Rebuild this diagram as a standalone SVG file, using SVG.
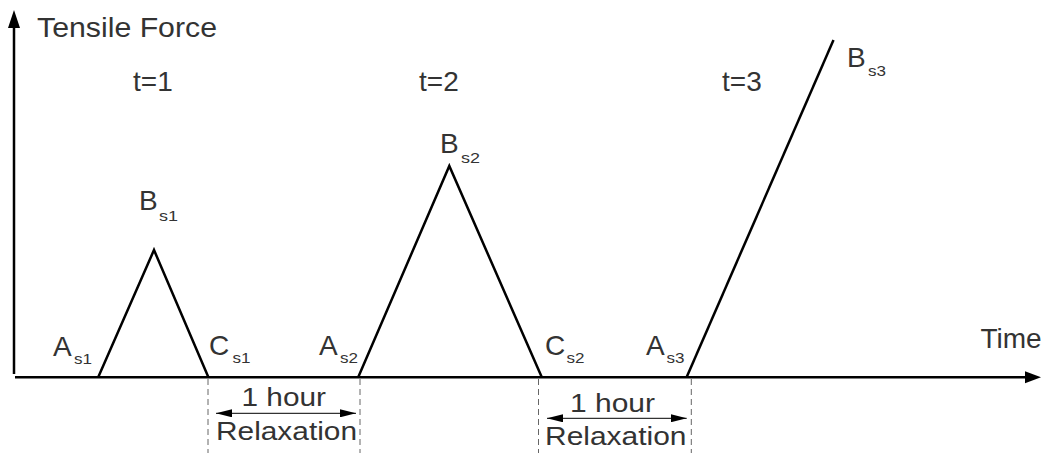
<svg xmlns="http://www.w3.org/2000/svg" width="1041" height="457" viewBox="0 0 1041 457">
<style>
.t{font-family:"Liberation Sans",Arial,sans-serif;fill:#333333;font-size:28px}
.m{font-family:"Liberation Sans",Arial,sans-serif;fill:#333333;font-size:26.5px}
.s{font-family:"Liberation Sans",Arial,sans-serif;fill:#333333;font-size:14px}
.ln{stroke:#000;stroke-width:2.5;fill:none}
.ds{stroke:#666;stroke-width:1;stroke-dasharray:6,4;fill:none}
.ar{stroke:#000;stroke-width:1;fill:none}
</style>
<defs>
<marker id="ah" viewBox="0 0 16 8" refX="16" refY="4" markerWidth="16" markerHeight="8" markerUnits="userSpaceOnUse" orient="auto-start-reverse">
<path d="M0,0 L16,4 L0,8 Z" fill="#000"/>
</marker>
</defs>
<rect width="1041" height="457" fill="#fff"/>
<g id="axes">
<line class="ln" x1="14" y1="374" x2="14" y2="26"/>
<path d="M14,10 L20,28 L8,28 Z" fill="#000"/>
<line class="ln" x1="15" y1="377.3" x2="1027" y2="377.3"/>
<path d="M1041,377.3 L1025,371.3 L1025,383.3 Z" fill="#000"/>
<text class="t" x="37" y="37" textLength="180" lengthAdjust="spacingAndGlyphs">Tensile Force</text>
<text class="t" x="980.5" y="348">Time</text>
</g>
<g id="curves">
<polyline class="ln" points="98.3,377 154,250 208.3,377"/>
<polyline class="ln" points="358.3,377 449.3,166 541.7,377"/>
<line class="ln" x1="686.7" y1="377" x2="833.5" y2="40"/>
</g>
<g id="cycle-labels">
<text class="t" x="133" y="90.5">t=1</text>
<text class="t" x="419" y="90.5">t=2</text>
<text class="t" x="722" y="90.5">t=3</text>
</g>
<g id="points">
<text class="t" x="53" y="356">A</text><text class="s" x="74" y="364" textLength="18" lengthAdjust="spacingAndGlyphs">s1</text>
<text class="t" x="139" y="210">B</text><text class="s" x="159" y="221" textLength="19" lengthAdjust="spacingAndGlyphs">s1</text>
<text class="t" x="209" y="355">C</text><text class="s" x="232.5" y="363" textLength="18" lengthAdjust="spacingAndGlyphs">s1</text>
<text class="t" x="319" y="355">A</text><text class="s" x="340" y="363" textLength="18" lengthAdjust="spacingAndGlyphs">s2</text>
<text class="t" x="440" y="153">B</text><text class="s" x="461" y="162.5" textLength="19" lengthAdjust="spacingAndGlyphs">s2</text>
<text class="t" x="545" y="355">C</text><text class="s" x="566.5" y="363" textLength="18" lengthAdjust="spacingAndGlyphs">s2</text>
<text class="t" x="646" y="355">A</text><text class="s" x="666.5" y="363" textLength="18" lengthAdjust="spacingAndGlyphs">s3</text>
<text class="t" x="847" y="66.5">B</text><text class="s" x="868" y="76" textLength="18" lengthAdjust="spacingAndGlyphs">s3</text>
</g>
<g id="relax1">
<line class="ds" x1="208" y1="379" x2="208" y2="453"/>
<line class="ds" x1="360" y1="379" x2="360" y2="453"/>
<line class="ar" x1="216" y1="413.3" x2="356" y2="413.3" marker-start="url(#ah)" marker-end="url(#ah)"/>
<text class="m" x="241.5" y="406" textLength="84.5" lengthAdjust="spacingAndGlyphs">1 hour</text>
<text class="m" x="216" y="440" textLength="141" lengthAdjust="spacingAndGlyphs">Relaxation</text>
</g>
<g id="relax2">
<line class="ds" x1="538.5" y1="379" x2="538.5" y2="453"/>
<line class="ds" x1="691.3" y1="379" x2="691.3" y2="453"/>
<line class="ar" x1="547" y1="418.3" x2="686.7" y2="418.3" marker-start="url(#ah)" marker-end="url(#ah)"/>
<text class="m" x="570" y="411.5" textLength="85" lengthAdjust="spacingAndGlyphs">1 hour</text>
<text class="m" x="545" y="445" textLength="141.5" lengthAdjust="spacingAndGlyphs">Relaxation</text>
</g>
</svg>
